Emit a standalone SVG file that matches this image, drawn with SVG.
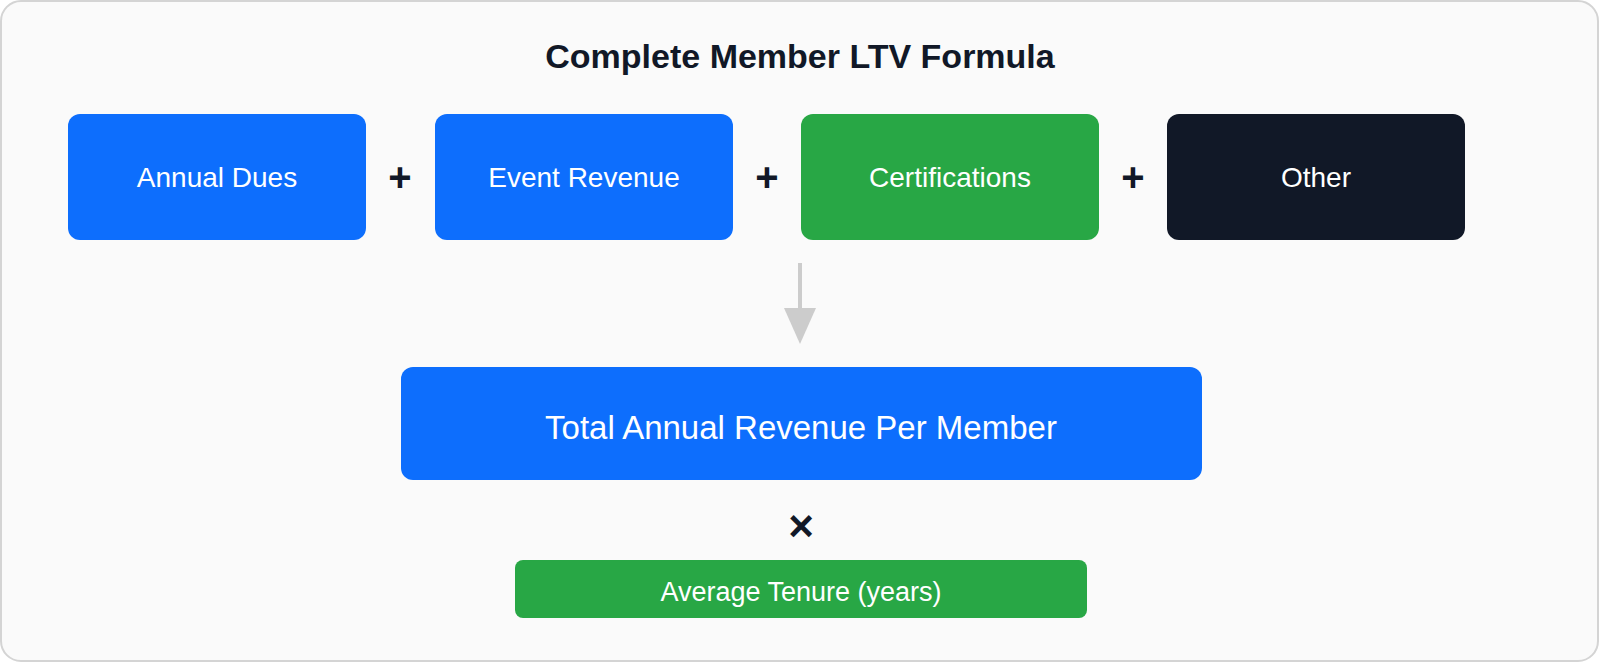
<svg xmlns="http://www.w3.org/2000/svg" width="1600" height="663" viewBox="0 0 1600 663">
<style>
.bg{fill:#fafafa;stroke:#d4d4d4;stroke-width:2}
.blue{fill:#0d6efd}
.green{fill:#28a745}
.dark{fill:#111827}
.lbl{font-family:"Liberation Sans",Arial,sans-serif;fill:#ffffff;text-anchor:middle}
.op{font-family:"Liberation Sans",Arial,sans-serif;font-weight:bold;fill:#111827;text-anchor:middle}
.title{font-family:"Liberation Sans",Arial,sans-serif;font-weight:bold;fill:#111827;text-anchor:middle;font-size:34px}
</style>
<defs>
<marker id="ah" viewBox="0 0 36 32" refX="0" refY="16" markerWidth="36" markerHeight="32" markerUnits="userSpaceOnUse" orient="auto">
<path d="M0 0 L36 16 L0 32 Z" fill="#cccccc"/>
</marker>
</defs>
<rect class="bg" x="1" y="1" width="1597" height="660" rx="20"/>
<text class="title" x="800" y="68">Complete Member LTV Formula</text>
<g id="n-annual-dues">
<rect class="blue" x="68" y="114" width="298" height="126" rx="12"/>
<text class="lbl" x="217" y="187" font-size="28">Annual Dues</text>
</g>
<g id="n-event-revenue">
<rect class="blue" x="435" y="114" width="298" height="126" rx="12"/>
<text class="lbl" x="584" y="187" font-size="28">Event Revenue</text>
</g>
<g id="n-certifications">
<rect class="green" x="801" y="114" width="298" height="126" rx="12"/>
<text class="lbl" x="950" y="187" font-size="28">Certifications</text>
</g>
<g id="n-other">
<rect class="dark" x="1167" y="114" width="298" height="126" rx="12"/>
<text class="lbl" x="1316" y="187" font-size="28">Other</text>
</g>
<g id="ops">
<text class="op" x="400" y="191" font-size="40">+</text>
<text class="op" x="767" y="191" font-size="40">+</text>
<text class="op" x="1133" y="191" font-size="40">+</text>
<text class="op" x="801" y="541" font-size="44">×</text>
</g>
<g id="connectors">
<line x1="800" y1="263" x2="800" y2="308" stroke="#cccccc" stroke-width="4" marker-end="url(#ah)"/>
</g>
<g id="n-total">
<rect class="blue" x="401" y="367" width="801" height="113" rx="12"/>
<text class="lbl" x="801" y="439" font-size="33">Total Annual Revenue Per Member</text>
</g>
<g id="n-tenure">
<rect class="green" x="515" y="560" width="572" height="58" rx="8"/>
<text class="lbl" x="801" y="601" font-size="27">Average Tenure (years)</text>
</g>
</svg>
